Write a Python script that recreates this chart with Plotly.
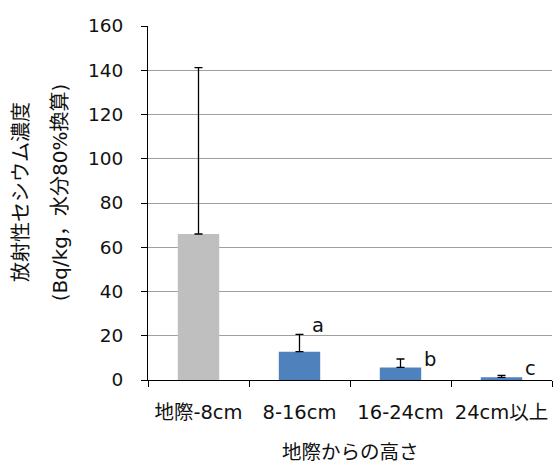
import plotly.graph_objects as go

categories = ["地際-8cm", "8-16cm", "16-24cm", "24cm以上"]
means = [66.0, 12.8, 5.7, 1.2]
errors_plus = [75.2, 7.8, 3.8, 0.9]
bar_colors = ["#bfbfbf", "#4f81bd", "#4f81bd", "#4f81bd"]
sig_letters = ["", "a", "b", "c"]
y_ticks = [0, 20, 40, 60, 80, 100, 120, 140, 160]

FONT = "DejaVu Sans, Noto Sans CJK JP, sans-serif"
TXT = "#111111"

fig = go.Figure()
fig.add_trace(go.Bar(
    x=categories, y=means, width=0.41,
    marker=dict(color=bar_colors, line=dict(width=0)),
    error_y=dict(type="data", symmetric=False, array=errors_plus,
                 arrayminus=[0] * len(means), color="black",
                 thickness=1.3, width=4),
    showlegend=False,
))

xshifts = [0, 18, 29, 29]
yshifts = [0, -5, -14, -7]
for i, letter in enumerate(sig_letters):
    if not letter:
        continue
    fig.add_annotation(x=categories[i], y=means[i] + errors_plus[i],
                       text=letter, showarrow=False, xanchor="center",
                       yanchor="bottom", xshift=xshifts[i], yshift=yshifts[i],
                       font=dict(size=19.5, color=TXT, family=FONT))

fig.add_annotation(xref="paper", yref="paper", x=-0.3126, y=0.53,
                   text="放射性セシウム濃度", textangle=-90, showarrow=False,
                   xanchor="center", yanchor="middle",
                   font=dict(size=20, color=TXT, family=FONT))
fig.add_annotation(xref="paper", yref="paper", x=-0.218, y=0.53,
                   text="(Bq/kg，水分80%換算)", textangle=-90, showarrow=False,
                   xanchor="center", yanchor="middle",
                   font=dict(size=20, color=TXT, family=FONT))
fig.add_annotation(xref="paper", yref="paper", x=0.5, y=-0.205,
                   text="地際からの高さ", showarrow=False,
                   xanchor="center", yanchor="middle",
                   font=dict(size=19.5, color=TXT, family=FONT))

fig.update_layout(
    width=553, height=464,
    margin=dict(l=148, r=1, t=26, b=84, autoexpand=False),
    paper_bgcolor="white", plot_bgcolor="white",
    font=dict(family=FONT, size=18, color=TXT),
    xaxis=dict(type="category", tickson="boundaries", ticks="outside",
               ticklen=6, tickcolor="black", showline=True, linecolor="black",
               linewidth=1, showgrid=False, ticklabelstandoff=15,
               automargin=False, tickangle=0, tickfont=dict(size=19.5)),
    yaxis=dict(range=[0, 160], tickvals=y_ticks, ticks="outside", ticklen=6,
               tickcolor="black", showline=True, linecolor="black", linewidth=1,
               showgrid=True, gridcolor="#a0a0a0", gridwidth=1, zeroline=False,
               ticklabelstandoff=14, automargin=False,
               tickfont=dict(size=18.5)),
)

fig.write_html("out.html", config={"displayModeBar": False},
               post_script="document.body.style.margin='0px';document.body.style.overflow='hidden';")
